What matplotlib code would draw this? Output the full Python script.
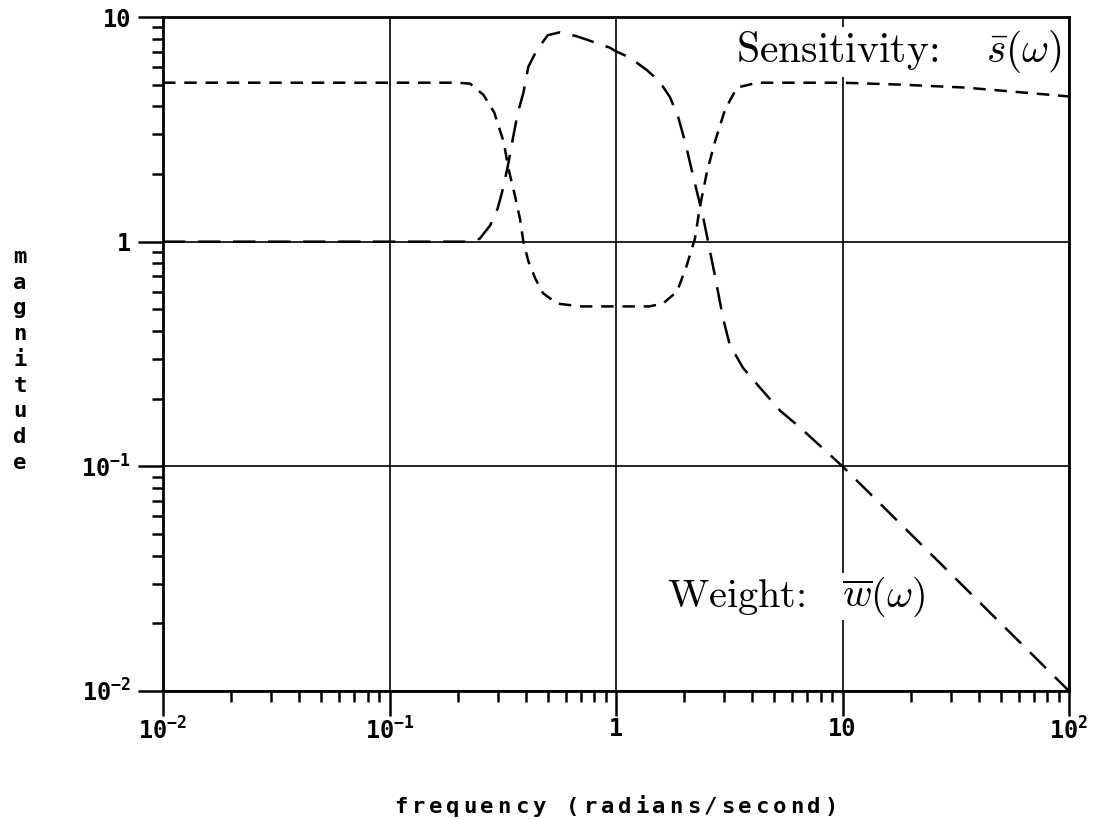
import numpy as np
import matplotlib.pyplot as plt
from matplotlib.ticker import LogLocator, NullFormatter

# sensitivity s(w)
sens_freq = [0.01, 0.05, 0.1, 0.2, 0.227, 0.26, 0.29, 0.32, 0.333, 0.358, 0.377, 0.39,
             0.41, 0.44, 0.476, 0.55, 0.7, 1.0, 1.4, 1.61, 1.86, 2.05, 2.23, 2.35, 2.52,
             2.73, 3.03, 3.42, 4.2, 10, 18, 35, 100]
sens_mag = [5.1, 5.1, 5.1, 5.1, 5.05, 4.5, 3.76, 2.76, 2.17, 1.6, 1.26, 1.0,
            0.82, 0.686, 0.59, 0.53, 0.515, 0.515, 0.515, 0.53, 0.60, 0.78, 1.03, 1.44, 2.04,
            2.77, 3.87, 4.85, 5.1, 5.1, 5.0, 4.85, 4.43]

# weight w(w)
wt_freq = [0.01, 0.1, 0.22, 0.25, 0.278, 0.30, 0.314, 0.333, 0.35, 0.369, 0.39, 0.41,
           0.448, 0.50, 0.566, 0.673, 0.75, 0.94, 1.0, 1.15, 1.37, 1.56, 1.73, 1.88, 2.02,
           2.17, 2.30, 2.42, 2.55, 2.73, 2.97, 3.18, 3.64, 4.32, 5.3, 6.49, 10, 100]
wt_mag = [1.0, 1.0, 1.0, 1.03, 1.18, 1.4, 1.66, 2.17, 2.86, 3.76, 4.6, 6.0,
          7.15, 8.3, 8.55, 8.2, 7.9, 7.3, 7.03, 6.6, 5.8, 5.15, 4.4, 3.6, 2.77,
          2.04, 1.6, 1.3, 1.0, 0.71, 0.456, 0.347, 0.274, 0.224, 0.177, 0.149, 0.1, 0.01]

x_ticks = [1e-2, 1e-1, 1, 10, 1e2]
x_labels = [r'$10^{-2}$', r'$10^{-1}$', '1', '10', r'$10^{2}$']
y_ticks = [1e-2, 1e-1, 1, 10]
y_labels = [r'$10^{-2}$', r'$10^{-1}$', '1', '10']
xlabel = 'frequency (radians/second)'
ylabel = 'magnitude'

# plotter-style bold mono for the axis text
plt.rcParams['mathtext.fontset'] = 'custom'
plt.rcParams['mathtext.rm'] = 'DejaVu Sans Mono:bold'
plt.rcParams['mathtext.it'] = 'DejaVu Sans Mono:bold'
plt.rcParams['mathtext.bf'] = 'DejaVu Sans Mono:bold'
plt.rcParams['mathtext.default'] = 'rm'

W, H = 1099, 819
fig = plt.figure(figsize=(W / 100, H / 100), dpi=100)
ax = fig.add_axes([163 / W, 1 - 691 / H, (1069 - 163) / W, (691 - 17) / H])
ax.set_xscale('log')
ax.set_yscale('log')
ax.set_xlim(1e-2, 1e2)
ax.set_ylim(1e-2, 10)

ax.plot(sens_freq, sens_mag, color='black', lw=1.8, dashes=(5, 3.5), zorder=3)
ax.plot(wt_freq, wt_mag, color='black', lw=1.8, dashes=(9, 5), zorder=3)

tick_font = dict(fontfamily='DejaVu Sans Mono', fontweight='bold', fontsize=17)
ax.set_xticks(x_ticks, x_labels, **tick_font)
ax.set_yticks(y_ticks, y_labels, **tick_font)
for axis in (ax.xaxis, ax.yaxis):
    axis.set_minor_locator(LogLocator(base=10, subs=np.arange(2, 10)))
    axis.set_minor_formatter(NullFormatter())

ax.tick_params(which='major', direction='out', length=18, width=1.8, color='black')
ax.tick_params(which='minor', direction='out', length=8, width=1.8, color='black')
ax.tick_params(axis='x', which='major', pad=1)
ax.tick_params(axis='y', which='major', pad=5)
ax.grid(which='major', color='black', lw=1.2)
for sp in ax.spines.values():
    sp.set_linewidth(2.0)

# curve annotations in Computer Modern, white box hides the grid behind them
note_style = dict(fontsize=29, fontfamily='cmr10', math_fontfamily='cm', va='center',
                  bbox=dict(facecolor='white', edgecolor='none', pad=1), zorder=4)
ax.text(93, 7.0, r'Sensitivity:$\quad\;\bar{\mathit{s}}(\omega)$', ha='right',
        **{**note_style, 'fontsize': 30})
ax.text(1.68, 0.0263, r'Weight:$\quad\overline{\mathit{w}}(\omega)$', ha='left', **note_style)

# axis labels drawn letter by letter, like the wide plotter font
label_font = dict(family='DejaVu Sans Mono', weight='bold', fontsize=16)
for i, ch in enumerate(xlabel):
    x = 616 + (i - (len(xlabel) - 1) / 2) * 17.2
    fig.text(x / W, 1 - 813 / H, ch, ha='center', va='baseline', **label_font)
for i, ch in enumerate(ylabel):
    y = 263 + i * 25.7
    fig.text(20 / W, 1 - y / H, ch, ha='center', va='baseline', **label_font)

fig.savefig('out.png', dpi=100)
